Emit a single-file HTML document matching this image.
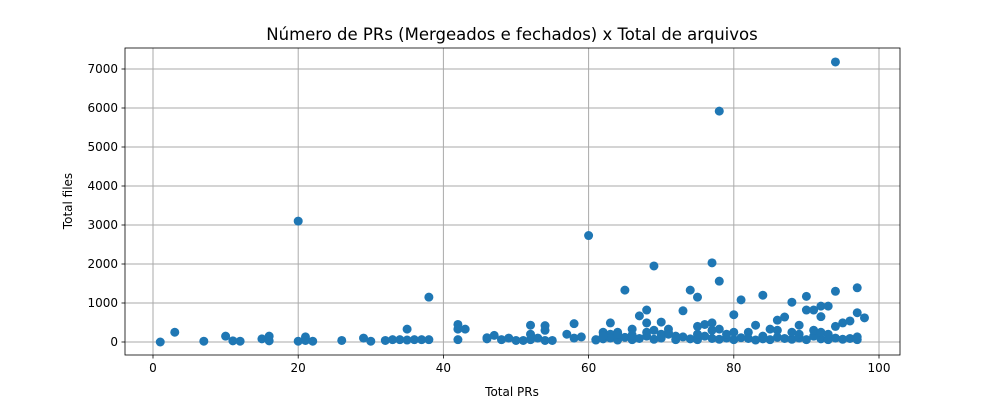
<!DOCTYPE html>
<html><head><meta charset="utf-8"><style>
body{margin:0;background:#fff;font-family:"Liberation Sans","DejaVu Sans",sans-serif}
svg text{font-family:"DejaVu Sans","Liberation Sans",sans-serif;font-size:12px;fill:#000}
</style></head><body>
<svg id="c" width="1000" height="400"></svg>
<script>
const xs=[1,3,7,10,11,12,15,16,16,20,20,21,21,22,26,29,30,32,33,34,35,35,36,37,38,38,42,42,42,43,46,46,47,48,49,50,51,52,52,52,53,54,54,54,55,57,58,58,59,60,
61,62,63,63,64,65,66,67,68,68,69,70,71,73,74,75,75,76,77,77,78,78,80,81,82,83,84,85,86,87,88,89,90,90,91,92,92,93,94,94,95,96,97,97,97,98,94,78];
const ys=[0,250,20,150,30,20,80,150,30,3100,20,130,40,20,40,100,20,40,60,60,50,330,60,60,1150,60,450,330,60,330,110,80,170,60,100,40,40,430,200,60,100,420,300,40,40,200,470,100,130,2730,
50,250,490,200,250,1330,330,670,820,490,1950,510,330,800,1330,1150,400,450,2030,490,1560,330,700,1080,250,430,1200,330,560,640,1020,430,1170,820,820,920,650,920,1300,400,490,540,1390,750,130,620,7180,5920];
const baseX=[];for(let i=61;i<=97;i++)baseX.push(i);
const baseY=[60,80,100,50,120,60,90,150,70,100,200,60,130,80,60,150,90,70,100,60,110,90,50,80,60,120,90,70,100,60,150,80,60,100,70,90,60];
const extraX=[62,64,66,68,69,70,71,72,75,77,79,80,84,86,88,89,91,92,93];
const extraY=[150,200,180,250,300,200,250,150,200,300,200,250,150,300,250,200,300,250,200];
const xticks=[0,20,40,60,80,100], yticks=[0,1000,2000,3000,4000,5000,6000,7000];
const L=125,R=900,T=48,B=355;
const sx=v=>153+(v-0)*(879-153)/100, sy=v=>342-v*(342-69)/7000;
const svg=document.getElementById('c'),NS='http://www.w3.org/2000/svg';
function mk(t,a,txt){const e=document.createElementNS(NS,t);for(const k in a)e.setAttribute(k,a[k]);if(txt!=null)e.textContent=txt;svg.appendChild(e);return e;}
xticks.forEach(v=>{const x=sx(v);
const g=mk('line',{x1:x,x2:x,y1:T,y2:B,stroke:'#aaaaaa','stroke-width':1});


mk('line',{x1:x,x2:x,y1:B,y2:B+3.5,stroke:'#000','stroke-width':0.8});
const t=mk('text',{x:x,y:B+17,'text-anchor':'middle'},v);

});
yticks.forEach(v=>{const y=sy(v);
const g=mk('line',{x1:L,x2:R,y1:y,y2:y,stroke:'#aaaaaa','stroke-width':1});


mk('line',{x1:L-3.5,x2:L,y1:y,y2:y,stroke:'#000','stroke-width':0.8});
const t=mk('text',{x:L-7,y:y+4,'text-anchor':'end'},v);

});
function pts(X,Y){X.forEach((v,i)=>{const c=mk('circle',{cx:sx(v),cy:sy(Y[i]),r:4.5,fill:'#1f77b4'});

});}
pts(xs,ys);pts(baseX,baseY);pts(extraX,extraY);
const f=mk('rect',{x:L,y:T,width:R-L,height:B-T,fill:'none',stroke:'#000','stroke-width':0.8});


const ti=mk('text',{x:512,y:40,'text-anchor':'middle'},'Número de PRs (Mergeados e fechados) x Total de arquivos');
ti.style.fontSize='16.5px';


const xl=mk('text',{x:512,y:396,'text-anchor':'middle'},'Total PRs');


const yl=mk('text',{x:0,y:0,'text-anchor':'middle',transform:'translate(72,201) rotate(-90)'},'Total files');


</script>
</body></html>
